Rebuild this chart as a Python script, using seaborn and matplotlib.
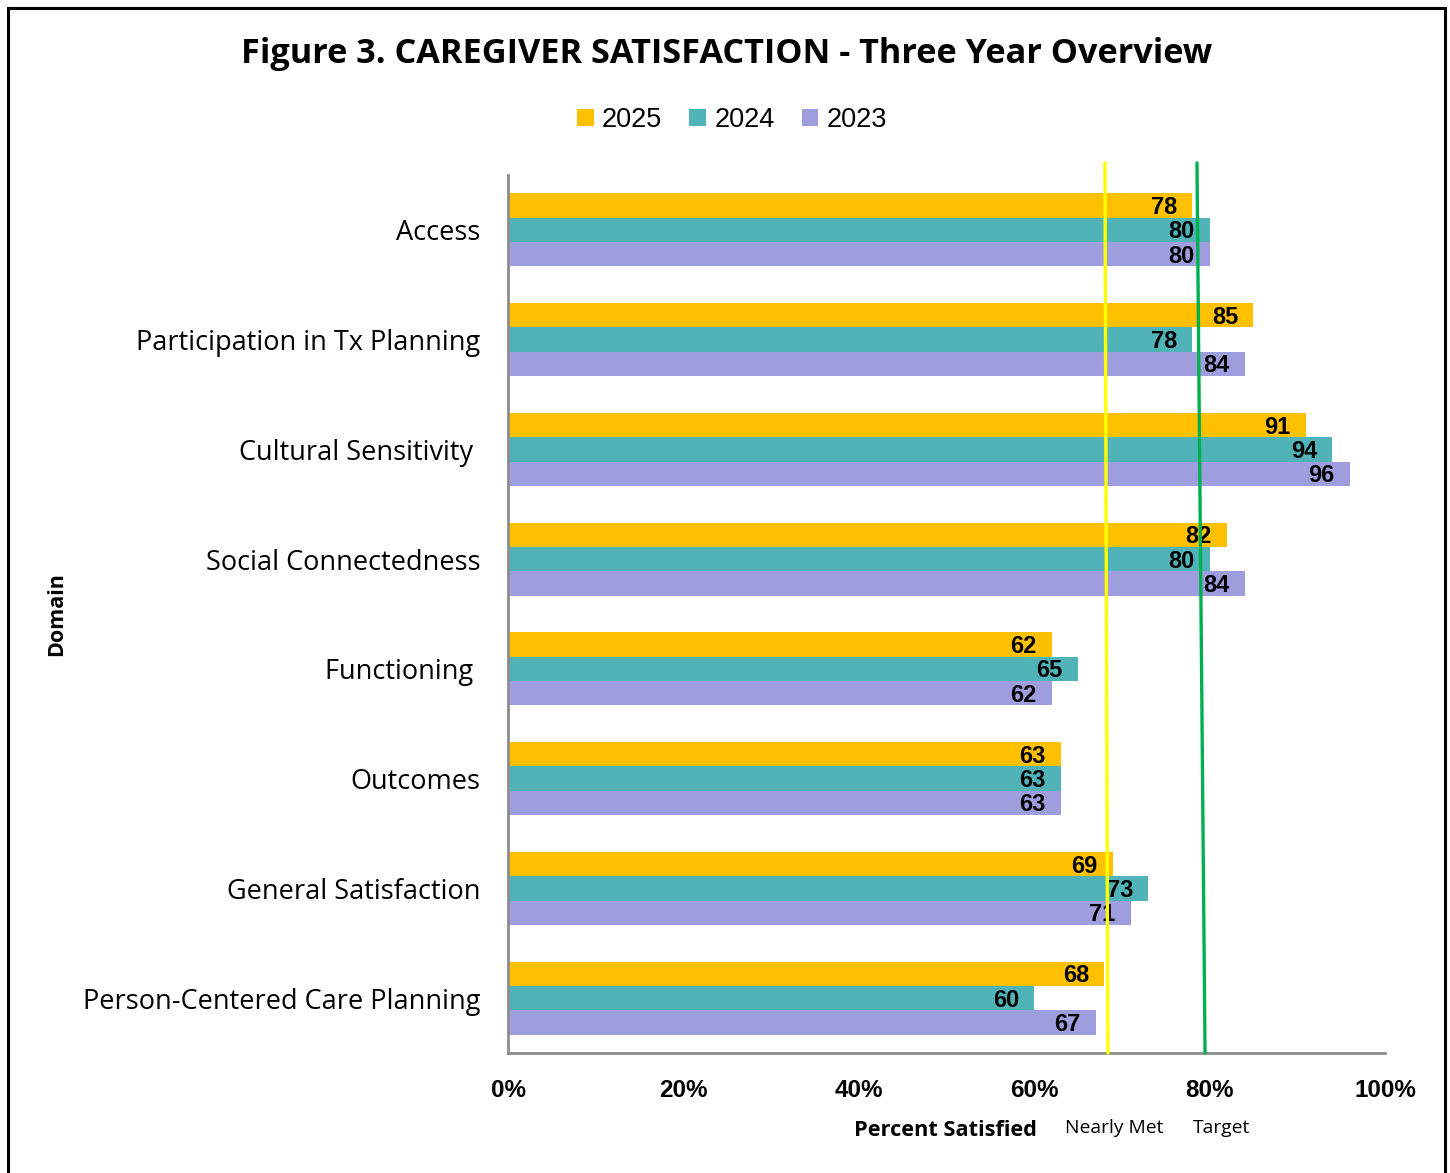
import matplotlib
matplotlib.use("Agg")
import matplotlib.pyplot as plt
from matplotlib.patches import Rectangle, Patch
import seaborn as sns
import pandas as pd

# Survey domains and percent satisfied per year
domains = ["Access", "Participation in Tx Planning", "Cultural Sensitivity ",
           "Social Connectedness", "Functioning ", "Outcomes",
           "General Satisfaction", "Person-Centered Care Planning"]
years = ["2025", "2024", "2023"]
pct_2025 = [78, 85, 91, 82, 62, 63, 69, 68]
pct_2024 = [80, 78, 94, 80, 65, 63, 73, 60]
pct_2023 = [80, 84, 96, 84, 62, 63, 71, 67]
x_ticks = [0, 20, 40, 60, 80, 100]
x_tick_labels = ["0%", "20%", "40%", "60%", "80%", "100%"]

# Benchmark lines (x at top, x at bottom of the plotting area)
nearly_met = (68.07, 68.4)
target = (78.56, 79.48)

colors = {"2025": "#FFC000", "2024": "#4FB3B8", "2023": "#9E9EDE"}

rows = []
for yr, vals in zip(years, [pct_2025, pct_2024, pct_2023]):
    for d, v in zip(domains, vals):
        rows.append({"Domain": d, "Year": yr, "Percent": v})
df = pd.DataFrame(rows)

sns.set_style("white")
plt.rcParams["font.family"] = ["Open Sans", "DejaVu Sans"]
plt.rcParams["text.color"] = "black"
plt.rcParams["xtick.color"] = "black"
plt.rcParams["ytick.color"] = "black"

fig = plt.figure(figsize=(14.5, 11.73), dpi=100)
ax = fig.add_axes([508 / 1450, 1 - 1053 / 1173, 877 / 1450, 878 / 1173])

sns.barplot(data=df, x="Percent", y="Domain", hue="Year", hue_order=years,
            order=domains, palette=colors, orient="h", width=0.664,
            saturation=1, edgecolor="none", legend=False, ax=ax)

for cont in ax.containers:
    labels = ax.bar_label(cont, fmt="%g", padding=-11, fontsize=17,
                          fontweight="bold", family="Liberation Sans",
                          color="black")
    for t in labels:
        t.set_ha("right")
        t.xyann = (-11, -1.5)
        t.set_zorder(4)

ax.set_xlim(0, 100)
ax.set_ylim(7.5, -0.5)
ax.set_xticks(x_ticks)
ax.set_xticklabels(x_tick_labels, fontsize=17.5, fontweight="bold",
                   family="Liberation Sans")
ax.tick_params(axis="x", length=0, pad=19)
ax.tick_params(axis="y", length=0, pad=20, labelsize=19.5)
ax.set_xlabel("")
ax.set_ylabel("")

for side in ["top", "right"]:
    ax.spines[side].set_visible(False)
for side in ["left", "bottom"]:
    ax.spines[side].set_color("#8C8C8C")
    ax.spines[side].set_linewidth(2)

# Benchmark lines drawn over the bars
ax.plot(nearly_met, [-0.61, 7.5], color="#FFFF00", lw=2.4, zorder=6,
        clip_on=False)
ax.plot(target, [-0.61, 7.5], color="#00B050", lw=2.4, zorder=6,
        clip_on=False)

fig.text(727 / 1450, 1 - 54 / 1173,
         "Figure 3. CAREGIVER SATISFACTION - Three Year Overview",
         ha="center", va="center", fontsize=24.7, fontweight="bold")

handles = [Patch(facecolor=colors[y], edgecolor="none", label=y) for y in years]
fig.legend(handles=handles, loc="center", bbox_to_anchor=(732 / 1450, 1 - 120 / 1173),
           ncol=3, frameon=False, handlelength=0.62,
           handleheight=0.62, handletextpad=0.3, columnspacing=1.0,
           prop={"family": "Liberation Sans", "size": 19.5})

fig.text(57 / 1450, 1 - 614 / 1173, "Domain", rotation=90, ha="center",
         va="center", fontsize=15.5, fontweight="bold")
fig.text(946 / 1450, 1 - 1131 / 1173, "Percent Satisfied", ha="center",
         va="center", fontsize=15.7, fontweight="bold")
fig.text(1114 / 1450, 1 - 1128 / 1173, "Nearly Met", ha="center",
         va="center", fontsize=13.9)
fig.text(1222 / 1450, 1 - 1128 / 1173, "Target", ha="center",
         va="center", fontsize=13.9)

# Outer frame
fig.patches.append(Rectangle((8 / 1450, -0.02), 1437 / 1450, 1.02 - 8 / 1173,
                             transform=fig.transFigure, fill=False,
                             edgecolor="black", lw=2.2, clip_on=False))

fig.savefig("out.png", dpi=100, facecolor="white")
